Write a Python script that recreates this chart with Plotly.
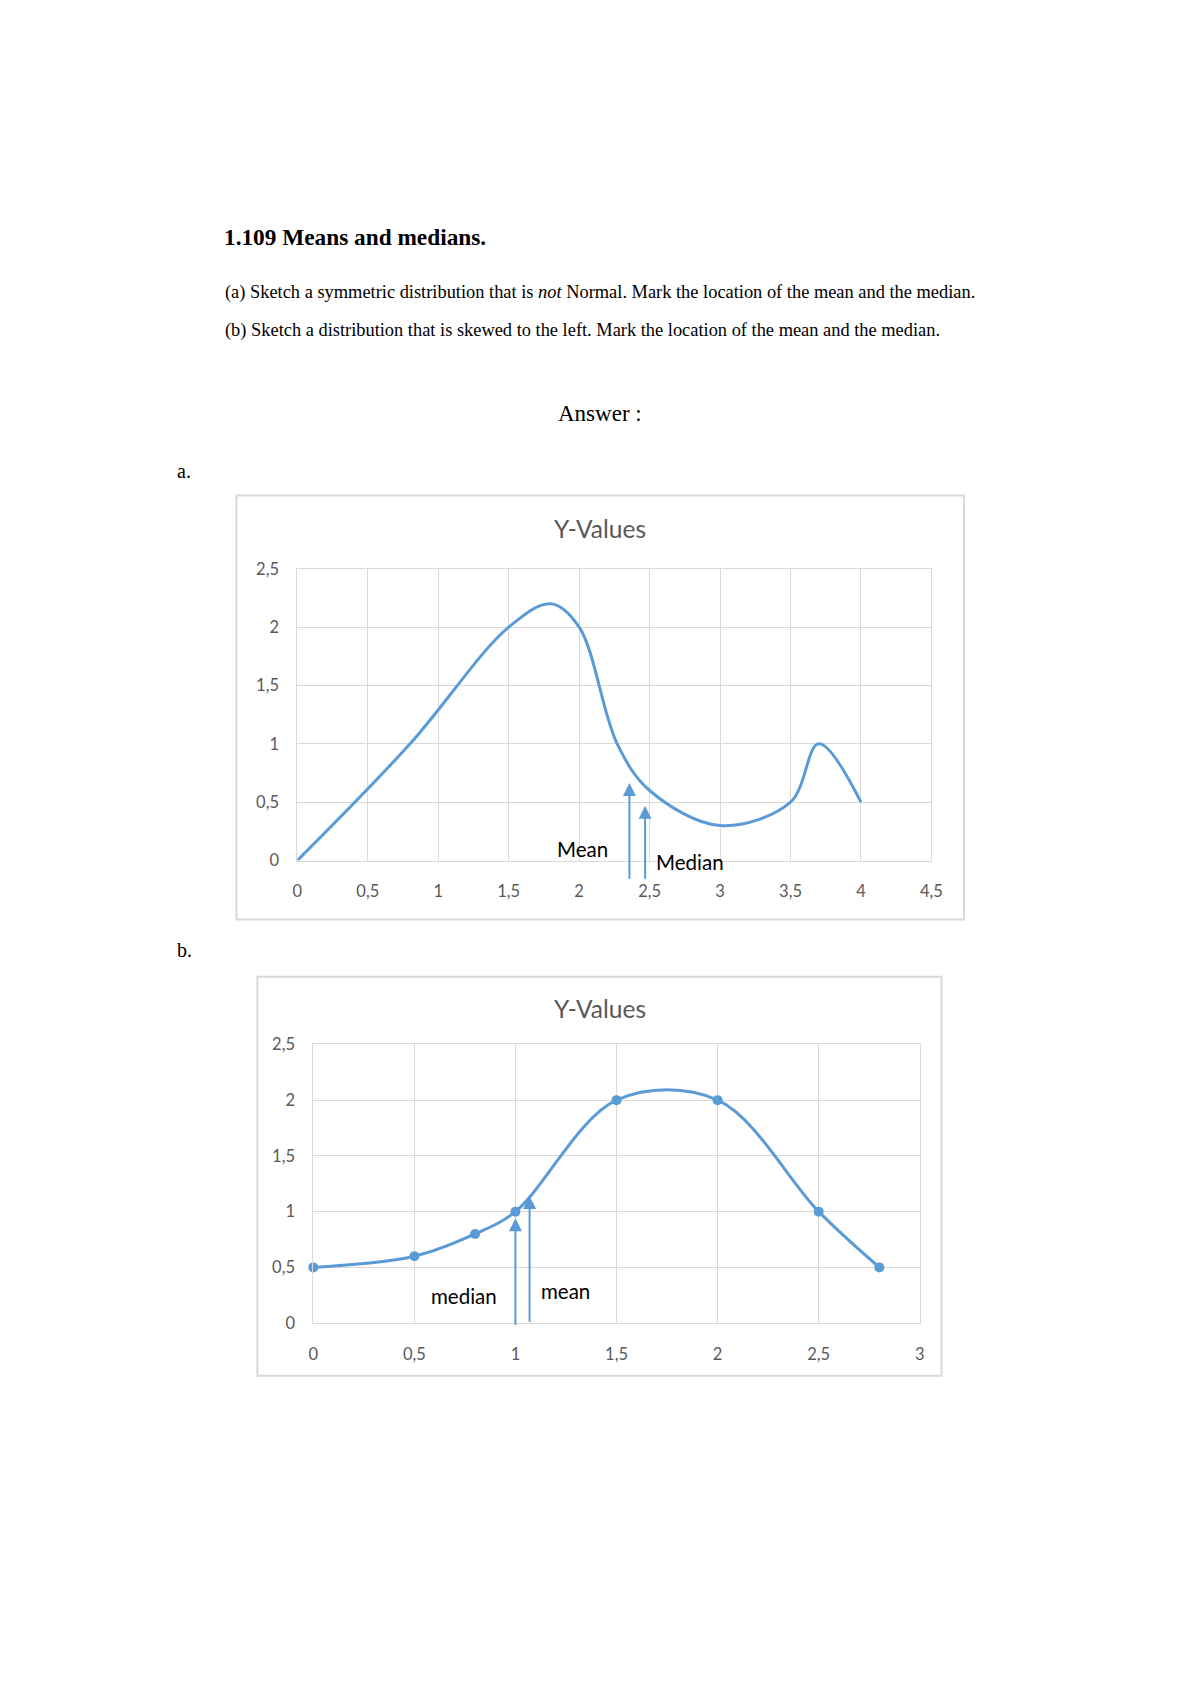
import plotly.graph_objects as go

W, H = 1200, 1697
# measured render mapping: page_px = off + scale * figure_px
SX, OX = 0.988, 4.0
SY, OY = 0.989, 9.8

# ---- data chart a ----
a_x = [0, 0.8, 1.5, 1.8, 2.0, 2.27, 2.5, 3.0, 3.5, 3.7, 4.0]
a_y = [0, 1.0, 2.0, 2.2, 2.0, 1.0, 0.6, 0.3, 0.5, 1.0, 0.5]
a_mean = 2.357
a_median = 2.468

# ---- data chart b ----
b_x = [0, 0.5, 0.8, 1.0, 1.5, 2.0, 2.5, 2.8]
b_y = [0.5, 0.6, 0.8, 1.0, 2.0, 2.0, 1.0, 0.5]
b_median = 1.0
b_mean = 1.07

x_ticks_a = [0, 0.5, 1, 1.5, 2, 2.5, 3, 3.5, 4, 4.5]
x_ticks_b = [0, 0.5, 1, 1.5, 2, 2.5, 3]
y_ticks = [0, 0.5, 1, 1.5, 2, 2.5]

BLUE = "#5B9BD5"
GRID = "#D9D9D9"
TXT = "#595959"
CHART_FONT = "Lato"
DOC_FONT = "Liberation Serif"


def px_x(p):
    return ((p - OX) / SX) / W


def px_y(p):
    return 1 - ((p - OY) / SY) / H


fig = go.Figure()

fig.add_trace(go.Scatter(x=a_x, y=a_y, mode="lines",
                         line=dict(color=BLUE, width=3, shape="spline", smoothing=1.0),
                         xaxis="x", yaxis="y", showlegend=False, hoverinfo="skip", cliponaxis=False))
fig.add_trace(go.Scatter(x=b_x, y=b_y, mode="lines+markers",
                         line=dict(color=BLUE, width=3, shape="spline", smoothing=1.0),
                         marker=dict(color=BLUE, size=10), xaxis="x2", yaxis="y2",
                         showlegend=False, hoverinfo="skip", cliponaxis=False))

axis_common = dict(showgrid=True, gridcolor=GRID, gridwidth=1, zeroline=False, showline=True, mirror=True,
                   linecolor=GRID, linewidth=1, ticks="",
                   tickfont=dict(family=CHART_FONT, size=16.5, color=TXT), fixedrange=True)

fig.update_layout(
    width=W, height=H, autosize=False,
    margin=dict(l=0, r=0, t=0, b=0),
    paper_bgcolor="white", plot_bgcolor="white",
    separators=",.",
    xaxis=dict(domain=[px_x(296.7), px_x(931.7)], range=[0, 4.5], tickvals=x_ticks_a, anchor="y",
               ticklabelstandoff=16, **axis_common),
    yaxis=dict(domain=[px_y(861), px_y(569)], range=[0, 2.5], tickvals=y_ticks, anchor="x",
               ticklabelstandoff=14, **axis_common),
    xaxis2=dict(domain=[px_x(312.7), px_x(920)], range=[0, 3], tickvals=x_ticks_b, anchor="y2",
                ticklabelstandoff=16, **axis_common),
    yaxis2=dict(domain=[px_y(1324), px_y(1045)], range=[0, 2.5], tickvals=y_ticks, anchor="x2",
                ticklabelstandoff=14, **axis_common),
)

# chart borders
fig.add_shape(type="rect", xref="paper", yref="paper", x0=px_x(235.7), x1=px_x(964.3), y0=px_y(920),
              y1=px_y(495.7), line=dict(color=GRID, width=2), fillcolor="rgba(0,0,0,0)", layer="below")
fig.add_shape(type="rect", xref="paper", yref="paper", x0=px_x(256.7), x1=px_x(941.7), y0=px_y(1376.7),
              y1=px_y(977.3), line=dict(color=GRID, width=2), fillcolor="rgba(0,0,0,0)", layer="below")

ann = []


def doc_text(text, x, y, size, anchor="left"):
    ann.append(dict(text=text, x=px_x(x), y=px_y(y), xref="paper", yref="paper", xanchor=anchor,
                    yanchor="middle", showarrow=False, font=dict(family=DOC_FONT, size=size, color="black")))


doc_text("<b>1.109 Means and medians.</b>", 221, 237, 23.3)
doc_text("(a) Sketch a symmetric distribution that is <i>not</i> Normal. Mark the location of the mean and the median.",
         222, 293, 18.4)
doc_text("(b) Sketch a distribution that is skewed to the left. Mark the location of the mean and the median.",
         222, 331, 18.4)
doc_text("Answer :", 600, 414, 23, anchor="center")
doc_text("a.", 174, 471.5, 20)
doc_text("b.", 174, 951, 20)


def chart_text(text, x, y, size, color):
    ann.append(dict(text=text, x=px_x(x), y=px_y(y), xref="paper", yref="paper", xanchor="center",
                    yanchor="middle", showarrow=False, font=dict(family=CHART_FONT, size=size, color=color)))


chart_text("Y-Values", 600, 529, 24.5, TXT)
chart_text("Y-Values", 600, 1009, 24.5, TXT)

# arrows chart a
arrow = dict(showarrow=True, arrowhead=2, arrowsize=1.3, arrowwidth=2, arrowcolor=BLUE, text="",
             axref="x", ayref="y", xref="x", yref="y")
ann.append(dict(x=a_mean, y=0.665, ax=a_mean, ay=-0.169, **arrow))
ann.append(dict(x=a_median, y=0.47, ax=a_median, ay=-0.169, **arrow))
chart_text("Mean", 582, 849, 20.5, "black")
chart_text("Median", 690, 862, 20.5, "black")

# arrows chart b
arrow_b = dict(showarrow=True, arrowhead=2, arrowsize=1.3, arrowwidth=2, arrowcolor=BLUE, text="",
               axref="x2", ayref="y2", xref="x2", yref="y2")
ann.append(dict(x=b_median, y=0.94, ax=b_median, ay=-0.03, **arrow_b))
ann.append(dict(x=b_mean, y=1.14, ax=b_mean, ay=0.0, **arrow_b))
chart_text("median", 463.5, 1297, 20.5, "black")
chart_text("mean", 565, 1291.5, 20.5, "black")

fig.update_layout(annotations=ann)

fig.write_html("out.html")
